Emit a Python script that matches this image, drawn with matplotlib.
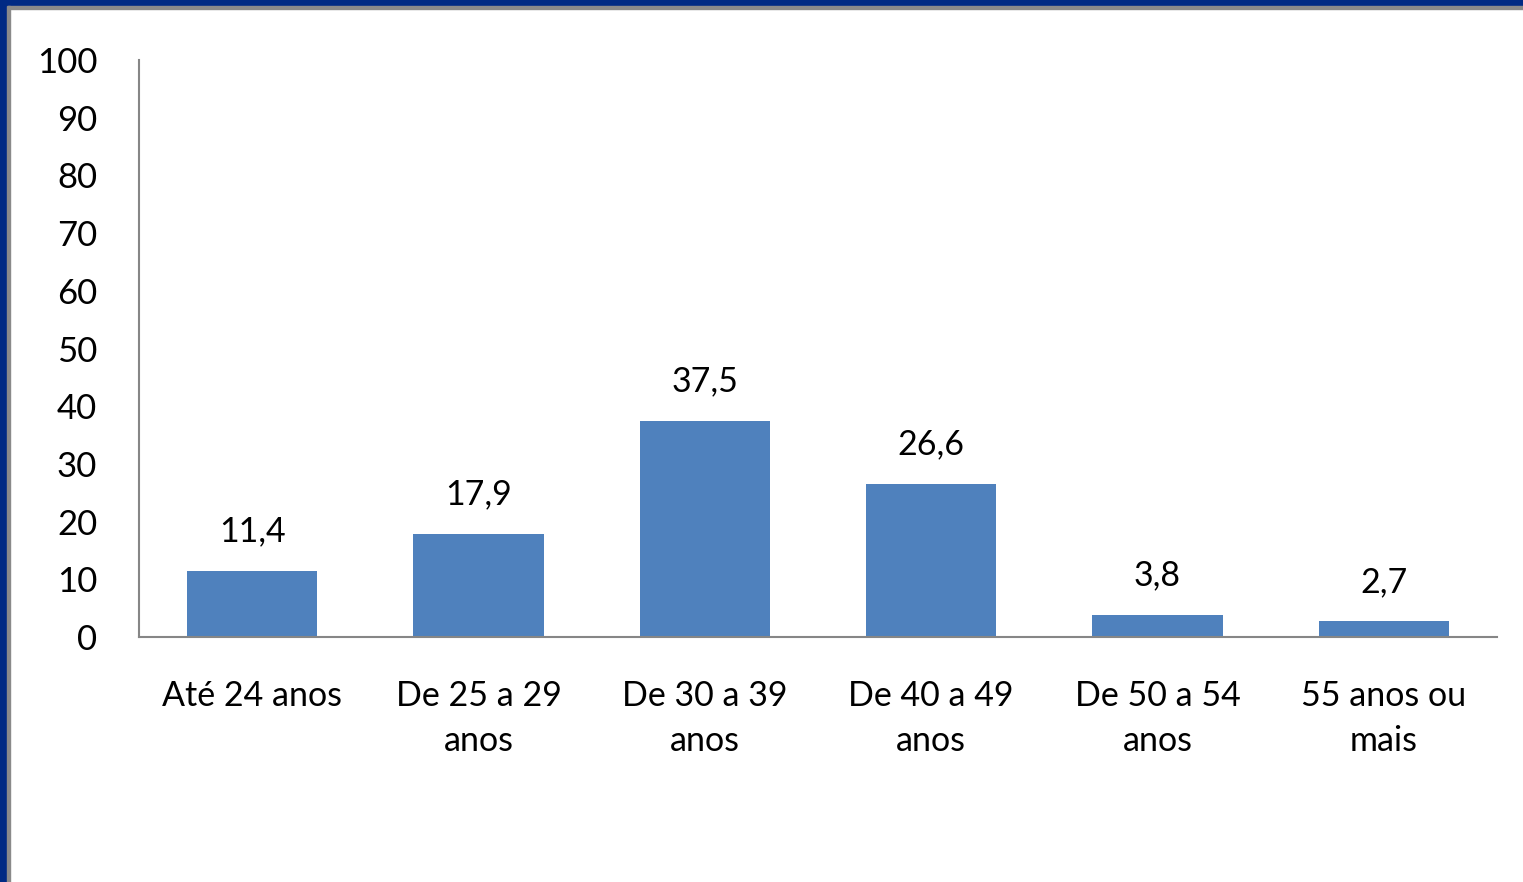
import matplotlib
matplotlib.use("Agg")
import matplotlib.pyplot as plt
from matplotlib.patches import Rectangle

categories = ["Até 24 anos", "De 25 a 29\nanos", "De 30 a 39\nanos",
              "De 40 a 49\nanos", "De 50 a 54\nanos", "55 anos ou\nmais"]
values = [11.4, 17.9, 37.5, 26.6, 3.8, 2.7]
value_labels = ["11,4", "17,9", "37,5", "26,6", "3,8", "2,7"]
yticks = [0, 10, 20, 30, 40, 50, 60, 70, 80, 90, 100]

plt.rcParams['font.family'] = ['Lato', 'DejaVu Sans']

W, H = 1523, 882
fig = plt.figure(figsize=(W / 100, H / 100), dpi=100)
fig.patch.set_facecolor("white")

# frame border (top and left)
fig.patches.append(Rectangle((0, 1 - 6 / H), 1, 6 / H, transform=fig.transFigure,
                             color="#002A84", zorder=0))
fig.patches.append(Rectangle((0, 1 - 8.5 / H), 1, 2.5 / H, transform=fig.transFigure,
                             color="#8A8A8A", zorder=0))
fig.patches.append(Rectangle((0, 0), 7 / W, 1, transform=fig.transFigure,
                             color="#002A84", zorder=1))
fig.patches.append(Rectangle((7 / W, 0), 3 / W, 1 - 6 / H, transform=fig.transFigure,
                             color="#8A8A8A", zorder=1))

ax = fig.add_axes([139 / W, 1 - 637 / H, (1497 - 139) / W, (637 - 60) / H])
x = range(len(categories))
ax.bar(x, values, width=0.575, color="#4F81BD", zorder=2)
for xi, v, lab in zip(x, values, value_labels):
    ax.annotate(lab, (xi, v), xytext=(0, 17), textcoords="offset points",
                ha="center", va="bottom", fontsize=24.5, color="black")

ax.set_xlim(-0.5, len(categories) - 0.5)
ax.set_ylim(0, 100)
ax.set_yticks(yticks)
ax.set_yticklabels([str(t) for t in yticks], fontsize=25)
ax.set_xticks(list(x))
ax.set_xticklabels(categories, fontsize=24.5, linespacing=1.5)
ax.tick_params(axis="y", length=0, pad=30)
ax.tick_params(axis="x", length=0, pad=31)

for s in ["top", "right"]:
    ax.spines[s].set_visible(False)
for s in ["left", "bottom"]:
    ax.spines[s].set_color("#868686")
    ax.spines[s].set_linewidth(1.5)

fig.savefig("out.png", dpi=100, facecolor="white")
